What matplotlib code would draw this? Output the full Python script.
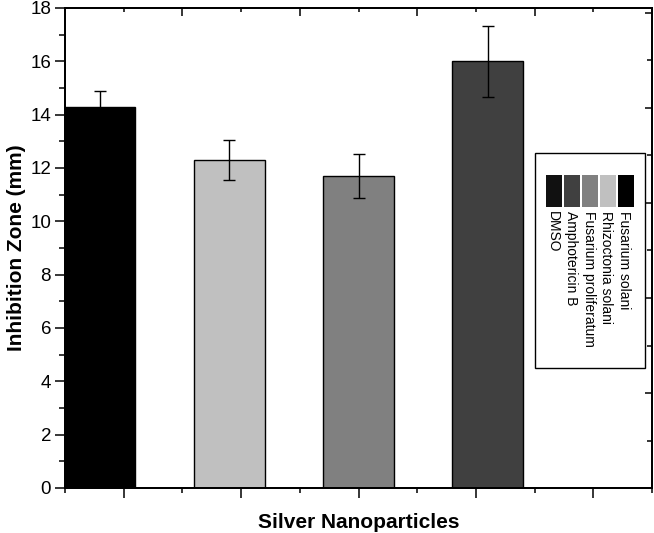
import matplotlib
matplotlib.use("Agg")
import matplotlib.pyplot as plt
from matplotlib.patches import Rectangle
from matplotlib.ticker import MultipleLocator, FixedLocator

# ---- data ----
categories = ["Fusarium solani", "Rhizoctonia solani", "Fusarium proliferatum",
              "Amphotericin B", "DMSO"]
values = [14.3, 12.3, 11.7, 16.0, 0.0]
errors = [0.58, 0.76, 0.82, 1.33, 0.0]
bar_colors = ["#000000", "#c0c0c0", "#808080", "#404040", "#111111"]
y_ticks = [0, 2, 4, 6, 8, 10, 12, 14, 16, 18]
x_label = "Silver Nanoparticles"
y_label = "Inhibition Zone (mm)"

plt.rcParams['font.family'] = ['Liberation Sans', 'DejaVu Sans']

W, H = 654, 533
fig = plt.figure(figsize=(W / 100, H / 100), dpi=100)
ax = fig.add_axes([65 / W, (H - 488) / H, (652 - 65) / W, (488 - 8) / H])

positions = [0.8 + 1.1 * i for i in range(len(values))]
ax.bar(positions, values, width=0.6, color=bar_colors, edgecolor="black",
       linewidth=1.0, zorder=2)
for p, v, e in zip(positions, values, errors):
    if e > 0:
        ax.errorbar(p, v, yerr=e, fmt="none", ecolor="black", elinewidth=1.0,
                    capsize=4, capthick=1.0, zorder=3)

ax.set_xlim(0.5, 5.5)
ax.set_ylim(0, 18)

# top axis ticks (inward)
axT = ax.twiny()
axT.set_xlim(0.5, 5.5)
axT.xaxis.set_major_locator(FixedLocator([1.5, 2.5, 3.5, 4.5]))
axT.xaxis.set_minor_locator(FixedLocator([1, 2, 3, 4, 5]))
axT.tick_params(axis="x", which="both", labeltop=False)
axT.tick_params(axis="x", which="major", direction="in", length=5.5, width=1.1)
axT.tick_params(axis="x", which="minor", direction="in", length=3, width=1.1)

# right axis ticks (inward)
axR = ax.twinx()
axR.set_ylim(0, 480 / 47.5)
axR.yaxis.set_major_locator(FixedLocator([2, 4, 6, 8, 10]))
axR.yaxis.set_minor_locator(FixedLocator([1, 3, 5, 7, 9]))
axR.tick_params(axis="y", which="both", labelright=False)
axR.tick_params(axis="y", which="major", direction="in", length=5, width=1.1)
axR.tick_params(axis="y", which="minor", direction="in", length=3.5, width=1.1)

ax.set_yticks(y_ticks)
ax.yaxis.set_minor_locator(MultipleLocator(1))
ax.xaxis.set_major_locator(FixedLocator([1, 2, 3, 4, 5]))
ax.xaxis.set_minor_locator(FixedLocator([0.5, 1.5, 2.5, 3.5, 4.5, 5.5]))
ax.tick_params(axis="x", which="both", labelbottom=False)
ax.tick_params(axis="y", which="major", direction="out", length=7, width=1.1,
               labelsize=13.5, pad=3)
ax.tick_params(axis="y", which="minor", direction="out", length=4, width=1.1)
ax.tick_params(axis="x", which="major", direction="out", length=7, width=1.1)
ax.tick_params(axis="x", which="minor", direction="out", length=3.5, width=1.1)

for a in (ax, axT, axR):
    for s in a.spines.values():
        s.set_linewidth(1.2)

ax.set_xlabel(x_label, fontsize=15, fontweight="bold", labelpad=11)
ax.set_ylabel(y_label, fontsize=15, fontweight="bold", labelpad=3)

# rotated legend drawn manually (figure pixel coordinates)
def fx(px):
    return px / W

def fy(py):
    return 1 - py / H

fig.patches.append(Rectangle((fx(535), fy(368)), fx(645) - fx(535), fy(153) - fy(368),
                             transform=fig.transFigure, facecolor="white",
                             edgecolor="black", linewidth=1.0, zorder=5))
legend_order = [4, 3, 2, 1, 0]  # left to right: DMSO ... Fusarium solani
centers = [553.5, 572, 590, 607.5, 625.5]
for cx, idx in zip(centers, legend_order):
    fig.patches.append(Rectangle((fx(cx - 8), fy(207)), fx(16), fy(175) - fy(207),
                                 transform=fig.transFigure,
                                 facecolor=bar_colors[idx], edgecolor="none",
                                 zorder=6))
    fig.text(fx(cx - 1), fy(211), categories[idx], rotation=270,
             ha="center", va="top", fontsize=10, zorder=7)

fig.savefig("out.png", dpi=100)
